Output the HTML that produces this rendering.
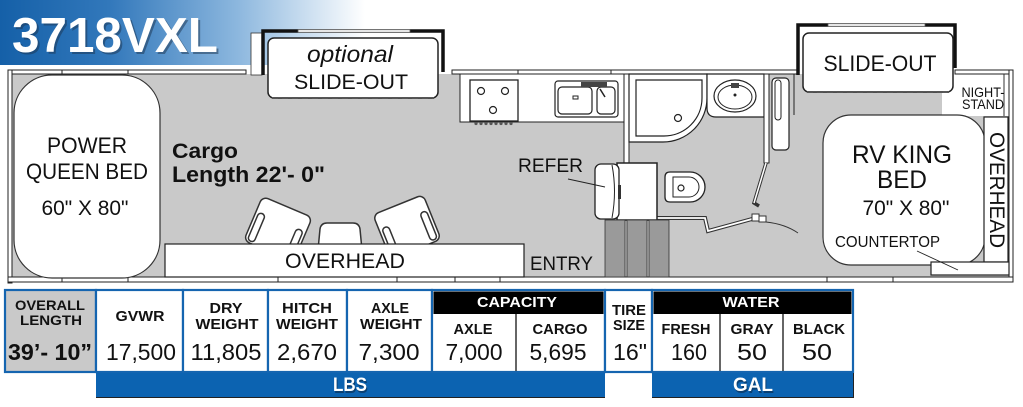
<!DOCTYPE html>
<html><head><meta charset="utf-8"><style>
html,body{margin:0;padding:0;background:#fff;}
svg{display:block;font-family:"Liberation Sans",sans-serif;}
</style></head><body>
<svg width="1023" height="407" viewBox="0 0 1023 407" xmlns="http://www.w3.org/2000/svg">
<defs>
<linearGradient id="tg" x1="0" x2="1" y1="0" y2="0">
<stop offset="0" stop-color="#1560a8"/>
<stop offset="0.3" stop-color="#3278bb"/>
<stop offset="0.65" stop-color="#8cb7de"/>
<stop offset="1" stop-color="#ffffff"/>
</linearGradient>
</defs>
<rect x="0" y="0" width="1023" height="407" fill="#fff"/>

<!-- Title banner -->
<rect x="0" y="0" width="365" height="65" fill="url(#tg)"/>
<text x="14" y="54" font-size="49" font-weight="bold" fill="#1d3550" opacity="0.5" textLength="206" lengthAdjust="spacingAndGlyphs">3718VXL</text>
<text x="12" y="52" font-size="49" font-weight="bold" fill="#fff" textLength="206" lengthAdjust="spacingAndGlyphs">3718VXL</text>

<!-- Gray floor -->
<rect x="11" y="74" width="999" height="203" fill="#c9c9c9"/>

<!-- Nightstand white -->
<rect x="942" y="74" width="67" height="42" fill="#fff"/>
<line x1="1004" y1="74" x2="1004" y2="116" stroke="#333" stroke-width="1"/>

<!-- Walls -->
<g fill="#fff" stroke="#222" stroke-width="1">
<rect x="8" y="70" width="238" height="4"/>
<rect x="452" y="70" width="346" height="4"/>
<rect x="955" y="70" width="58" height="4"/>
<rect x="8" y="70" width="4" height="213"/>
<rect x="1009" y="70" width="4" height="211"/>
<rect x="8" y="277" width="1005" height="5"/>
</g>
<g stroke="#222" stroke-width="1">
<line x1="62" y1="70" x2="62" y2="74"/><line x1="128" y1="70" x2="128" y2="74"/>
<line x1="518" y1="70" x2="518" y2="74"/><line x1="611" y1="70" x2="611" y2="74"/>
<line x1="62" y1="277" x2="62" y2="282"/><line x1="128" y1="277" x2="128" y2="282"/>
<line x1="278" y1="277" x2="278" y2="282"/><line x1="397" y1="277" x2="397" y2="282"/>
<line x1="455" y1="277" x2="455" y2="282"/><line x1="500" y1="277" x2="500" y2="282"/>
<line x1="827" y1="277" x2="827" y2="282"/><line x1="893" y1="277" x2="893" y2="282"/>
</g>

<!-- Left slide-out -->
<rect x="251" y="33" width="11" height="42" fill="#fff" stroke="#333" stroke-width="0.8"/>
<path d="M263,75 V31 H298 M410,31 H443 V72" fill="none" stroke="#111" stroke-width="3.5"/>
<rect x="298" y="29.5" width="112" height="3" fill="#e6e6e6" stroke="#555" stroke-width="0.8"/>
<rect x="268" y="38" width="170" height="60" rx="6" fill="#fff" stroke="#222" stroke-width="1.5"/>
<line x1="272" y1="98" x2="434" y2="98" stroke="#555" stroke-width="2" stroke-dasharray="6,4"/>
<text x="350" y="62" font-size="23" font-style="italic" text-anchor="middle" fill="#111" textLength="86" lengthAdjust="spacingAndGlyphs">optional</text>
<text x="351" y="89" font-size="21" text-anchor="middle" fill="#111" textLength="114" lengthAdjust="spacingAndGlyphs">SLIDE-OUT</text>

<!-- Right slide-out -->
<path d="M798,75 V25 H828 M925,25 H955 V68" fill="none" stroke="#111" stroke-width="3.5"/>
<rect x="828" y="23.5" width="97" height="3" fill="#e6e6e6" stroke="#555" stroke-width="0.8"/>
<rect x="803" y="33" width="150" height="59" rx="6" fill="#fff" stroke="#222" stroke-width="1.5"/>
<line x1="807" y1="92" x2="949" y2="92" stroke="#555" stroke-width="2" stroke-dasharray="6,4"/>
<text x="880" y="71" font-size="22" text-anchor="middle" fill="#111" textLength="113" lengthAdjust="spacingAndGlyphs">SLIDE-OUT</text>
<text x="983" y="97" font-size="14" text-anchor="middle" fill="#111" textLength="43" lengthAdjust="spacingAndGlyphs">NIGHT-</text>
<text x="983" y="109" font-size="14" text-anchor="middle" fill="#111" textLength="42" lengthAdjust="spacingAndGlyphs">STAND</text>

<!-- Left bed -->
<path d="M52,75 H122 A38,38 0 0 1 160,113 V240 A38,38 0 0 1 122,278 H52 A38,38 0 0 1 14,240 V113 A38,38 0 0 1 52,75 Z" fill="#fff" stroke="#333" stroke-width="1.2"/>
<text x="87" y="153" font-size="22" text-anchor="middle" fill="#111" textLength="80" lengthAdjust="spacingAndGlyphs">POWER</text>
<text x="87" y="179" font-size="22" text-anchor="middle" fill="#111" textLength="122" lengthAdjust="spacingAndGlyphs">QUEEN BED</text>
<text x="85" y="215" font-size="21" text-anchor="middle" fill="#111" textLength="87" lengthAdjust="spacingAndGlyphs">60" X 80"</text>

<!-- Cargo text -->
<text x="172" y="158" font-size="21" font-weight="bold" fill="#111" textLength="66" lengthAdjust="spacingAndGlyphs">Cargo</text>
<text x="172" y="182" font-size="22" font-weight="bold" fill="#111" textLength="153" lengthAdjust="spacingAndGlyphs">Length 22'- 0"</text>

<!-- Chairs -->
<g fill="#fff" stroke="#333" stroke-width="1.5">
<g transform="translate(278,229) rotate(23)">
<rect x="-27" y="-24" width="54" height="48" rx="6"/>
<rect x="-24" y="-8" width="7" height="30" rx="3.5"/>
<rect x="17" y="-8" width="7" height="30" rx="3.5"/>
</g>
<g transform="translate(407,227) rotate(-22)">
<rect x="-27" y="-24" width="54" height="48" rx="6"/>
<rect x="-24" y="-8" width="7" height="30" rx="3.5"/>
<rect x="17" y="-8" width="7" height="30" rx="3.5"/>
</g>
<path d="M318,250 L320,229 Q321,223 327,223 H353 Q359,223 360,229 L362,250 Z"/>
</g>

<!-- Overhead bottom -->
<rect x="165" y="244" width="359" height="33" fill="#fff" stroke="#222" stroke-width="1.2"/>
<text x="345" y="268" font-size="21" text-anchor="middle" fill="#111" textLength="120" lengthAdjust="spacingAndGlyphs">OVERHEAD</text>
<text x="530" y="270" font-size="19" fill="#111" textLength="63" lengthAdjust="spacingAndGlyphs">ENTRY</text>

<!-- Kitchen -->
<rect x="460" y="74" width="165" height="48" fill="#fff" stroke="#222" stroke-width="1"/>
<rect x="470" y="80" width="48" height="41" fill="#fff" stroke="#222" stroke-width="1.3"/>
<g fill="#fff" stroke="#222" stroke-width="1.2">
<circle cx="481" cy="91" r="3.5"/><circle cx="505" cy="91" r="3.5"/><circle cx="493" cy="110" r="3.5"/>
</g>
<g fill="#555">
<circle cx="476" cy="123.5" r="1.6"/><circle cx="481" cy="123.5" r="1.6"/><circle cx="486" cy="123.5" r="1.6"/><circle cx="491" cy="123.5" r="1.6"/><circle cx="496" cy="123.5" r="1.6"/><circle cx="501" cy="123.5" r="1.6"/><circle cx="506" cy="123.5" r="1.6"/><circle cx="511" cy="123.5" r="1.6"/>
</g>
<rect x="555" y="81" width="63" height="36" rx="3" fill="#fff" stroke="#222" stroke-width="1.2"/>
<rect x="558" y="87" width="34" height="27" rx="4" fill="#fff" stroke="#222" stroke-width="1.2"/>
<rect x="597" y="87" width="18" height="27" rx="4" fill="#fff" stroke="#222" stroke-width="1.2"/>
<rect x="581" y="82" width="26" height="5" fill="#444"/>
<rect x="573" y="96" width="5" height="3" fill="none" stroke="#222"/>
<line x1="600" y1="89" x2="605" y2="97" stroke="#222" stroke-width="1.5"/>

<!-- Shower -->
<rect x="624" y="74" width="5" height="89" fill="#fff" stroke="#222" stroke-width="1"/>
<path d="M629,74 H707 V98 A44,44 0 0 1 663,142 H629 Z" fill="#fff" stroke="#222" stroke-width="1.2"/>
<path d="M636,80 H702 V98 A38,38 0 0 1 664,136 H636 Z" fill="#fff" stroke="#222" stroke-width="1.2"/>
<circle cx="678" cy="118" r="3.5" fill="#fff" stroke="#222" stroke-width="1.2"/>

<!-- Bath sink -->
<path d="M707,74 H764 V117 H716 Q707,117 707,108 Z" fill="#fff" stroke="#222" stroke-width="1.2"/>
<ellipse cx="735" cy="96" rx="21" ry="16" fill="#fff" stroke="#222" stroke-width="1.2"/>
<ellipse cx="735" cy="97" rx="17" ry="12" fill="#fff" stroke="#222" stroke-width="1"/>
<rect x="731" y="83" width="8" height="5" fill="#444"/>
<circle cx="735" cy="95" r="1.5" fill="#222"/>

<!-- Bath wall and closet -->
<rect x="764" y="74" width="5" height="89" fill="#fff" stroke="#222" stroke-width="1"/>
<rect x="772" y="78" width="17" height="72" rx="4" fill="#fff" stroke="#222" stroke-width="1.2"/>
<rect x="775" y="80" width="6" height="40" rx="3" fill="#fff" stroke="#222" stroke-width="1"/>
<line x1="794" y1="74" x2="794" y2="115" stroke="#222" stroke-width="1"/>

<!-- Door -->
<path d="M766,163 L754,203 L759,206" fill="none" stroke="#333" stroke-width="3.5"/>
<path d="M766,163 L754,203" fill="none" stroke="#fff" stroke-width="1.5"/>

<!-- Bathroom bottom wall -->
<path d="M657,218 H705 L708,231 L752,219" fill="none" stroke="#333" stroke-width="4"/>
<path d="M657,218 H705 L708,231 L752,219" fill="none" stroke="#fff" stroke-width="1.8"/>
<rect x="752" y="214" width="7" height="7" fill="#fff" stroke="#333"/>
<rect x="759" y="216" width="7" height="6" fill="#fff" stroke="#333"/>
<path d="M766,222 Q785,224 798,233" fill="none" stroke="#333" stroke-width="0.9"/>

<!-- Toilet -->
<path d="M670,172 H690 A15,15 0 0 1 690,202 H670 Q665,202 665,197 V177 Q665,172 670,172 Z" fill="#fff" stroke="#222" stroke-width="1.3"/>
<path d="M673,177 H689 A10,10 0 0 1 689,197 H673 Z" fill="#fff" stroke="#222" stroke-width="1"/>
<circle cx="681" cy="188" r="3" fill="#fff" stroke="#222" stroke-width="1.2"/>

<!-- Refer -->
<rect x="617" y="163" width="40" height="57" fill="#fff" stroke="#222" stroke-width="1.5"/>
<rect x="595" y="164" width="24" height="55" rx="6" fill="#fff" stroke="#222" stroke-width="1.3"/>
<path d="M612,165 Q617,191 612,218" fill="none" stroke="#222" stroke-width="1"/>
<rect x="618" y="185" width="3" height="14" fill="#333"/>
<line x1="568" y1="179" x2="605" y2="187" stroke="#222" stroke-width="1"/>
<text x="518" y="172" font-size="19" fill="#111" textLength="65" lengthAdjust="spacingAndGlyphs">REFER</text>

<!-- Steps -->
<g fill="#9a9a9a" stroke="#333" stroke-width="0.8">
<rect x="605" y="220" width="20" height="57"/>
<rect x="627" y="220" width="20" height="57"/>
<rect x="649" y="220" width="20" height="57"/>
</g>

<!-- King bed -->
<rect x="823" y="115" width="162" height="150" rx="28" fill="#fff" stroke="#333" stroke-width="1.2"/>
<text x="902" y="163" font-size="25" text-anchor="middle" fill="#111" textLength="100" lengthAdjust="spacingAndGlyphs">RV KING</text>
<text x="902" y="188" font-size="25" text-anchor="middle" fill="#111" textLength="50" lengthAdjust="spacingAndGlyphs">BED</text>
<text x="906" y="215" font-size="21" text-anchor="middle" fill="#111" textLength="87" lengthAdjust="spacingAndGlyphs">70" X 80"</text>
<text x="835" y="247" font-size="16" fill="#111" textLength="105" lengthAdjust="spacingAndGlyphs">COUNTERTOP</text>
<rect x="984" y="117" width="24" height="145" fill="#fff" stroke="#222" stroke-width="1.2"/>
<text transform="translate(990,132) rotate(90)" x="0" y="0" font-size="21" fill="#111" textLength="116" lengthAdjust="spacingAndGlyphs">OVERHEAD</text>
<rect x="931" y="262" width="78" height="13" fill="#fff" stroke="#222" stroke-width="1.2"/>
<line x1="917" y1="251" x2="958" y2="270" stroke="#222" stroke-width="0.9"/>

<!-- Table -->
<g stroke="#1565b0" stroke-width="2.2">
<rect x="5" y="290" width="91" height="82" fill="#c9c9c9"/>
<rect x="96" y="290" width="87" height="82" fill="#fff"/>
<rect x="183" y="290" width="85" height="82" fill="#fff"/>
<rect x="268" y="290" width="79" height="82" fill="#fff"/>
<rect x="347" y="290" width="85" height="82" fill="#fff"/>
<rect x="432" y="290" width="173" height="82" fill="#fff"/>
<rect x="605" y="290" width="47" height="82" fill="#fff"/>
<rect x="652" y="290" width="201" height="82" fill="#fff"/>
</g>
<rect x="433.5" y="291.5" width="170" height="22.5" fill="#000"/>
<rect x="653.5" y="291.5" width="198" height="22.5" fill="#000"/>
<g stroke="#000" stroke-width="1.2">
<line x1="516" y1="314" x2="516" y2="371"/>
<line x1="720" y1="314" x2="720" y2="371"/>
<line x1="783" y1="314" x2="783" y2="371"/>
</g>

<g font-weight="bold" fill="#111" text-anchor="middle">
<text x="50" y="310" font-size="14" textLength="70" lengthAdjust="spacingAndGlyphs">OVERALL</text>
<text x="51" y="325" font-size="14" textLength="62" lengthAdjust="spacingAndGlyphs">LENGTH</text>
<text x="50" y="360" font-size="23" textLength="84" lengthAdjust="spacingAndGlyphs">39’- 10”</text>
<text x="140" y="321" font-size="15" textLength="49" lengthAdjust="spacingAndGlyphs">GVWR</text>
<text x="226" y="313" font-size="15" textLength="33" lengthAdjust="spacingAndGlyphs">DRY</text>
<text x="227" y="329" font-size="15" textLength="63" lengthAdjust="spacingAndGlyphs">WEIGHT</text>
<text x="307" y="313" font-size="15" textLength="50" lengthAdjust="spacingAndGlyphs">HITCH</text>
<text x="307" y="329" font-size="15" textLength="62" lengthAdjust="spacingAndGlyphs">WEIGHT</text>
<text x="390" y="313" font-size="15" textLength="38" lengthAdjust="spacingAndGlyphs">AXLE</text>
<text x="391" y="329" font-size="15" textLength="62" lengthAdjust="spacingAndGlyphs">WEIGHT</text>
<text x="517" y="307" font-size="15" fill="#fff" textLength="80" lengthAdjust="spacingAndGlyphs">CAPACITY</text>
<text x="473" y="334" font-size="15" textLength="39" lengthAdjust="spacingAndGlyphs">AXLE</text>
<text x="560" y="334" font-size="15" textLength="55" lengthAdjust="spacingAndGlyphs">CARGO</text>
<text x="629" y="315" font-size="15" textLength="34" lengthAdjust="spacingAndGlyphs">TIRE</text>
<text x="629" y="330" font-size="15" textLength="32" lengthAdjust="spacingAndGlyphs">SIZE</text>
<text x="751" y="307" font-size="15" fill="#fff" textLength="57" lengthAdjust="spacingAndGlyphs">WATER</text>
<text x="686" y="334" font-size="15" textLength="49" lengthAdjust="spacingAndGlyphs">FRESH</text>
<text x="752" y="334" font-size="15" textLength="43" lengthAdjust="spacingAndGlyphs">GRAY</text>
<text x="819" y="334" font-size="15" textLength="52" lengthAdjust="spacingAndGlyphs">BLACK</text>
</g>
<g fill="#111" text-anchor="middle" font-size="23">
<text x="141" y="360" textLength="70" lengthAdjust="spacingAndGlyphs">17,500</text>
<text x="226" y="360" textLength="71" lengthAdjust="spacingAndGlyphs">11,805</text>
<text x="307" y="360" textLength="60" lengthAdjust="spacingAndGlyphs">2,670</text>
<text x="389" y="360" textLength="61" lengthAdjust="spacingAndGlyphs">7,300</text>
<text x="474" y="360" textLength="57" lengthAdjust="spacingAndGlyphs">7,000</text>
<text x="558" y="360" textLength="57" lengthAdjust="spacingAndGlyphs">5,695</text>
<text x="630" y="360" textLength="34" lengthAdjust="spacingAndGlyphs">16"</text>
<text x="689" y="360" textLength="36" lengthAdjust="spacingAndGlyphs">160</text>
<text x="752" y="360" textLength="30" lengthAdjust="spacingAndGlyphs">50</text>
<text x="817" y="360" textLength="30" lengthAdjust="spacingAndGlyphs">50</text>
</g>

<!-- Bars -->
<rect x="96" y="373" width="509" height="24" fill="#0c63b1"/>
<line x1="96" y1="397.5" x2="605" y2="397.5" stroke="#222" stroke-width="1"/>
<rect x="652" y="373" width="201" height="24" fill="#0c63b1"/>
<path d="M652,397.5 H853.5 V373" fill="none" stroke="#222" stroke-width="1"/>
<g font-weight="bold" text-anchor="middle" font-size="19">
<text x="351" y="393" fill="#0a2a4a" opacity="0.6" textLength="34" lengthAdjust="spacingAndGlyphs">LBS</text>
<text x="350" y="391" fill="#fff" textLength="34" lengthAdjust="spacingAndGlyphs">LBS</text>
<text x="754" y="393" fill="#0a2a4a" opacity="0.6" textLength="40" lengthAdjust="spacingAndGlyphs">GAL</text>
<text x="753" y="391" fill="#fff" textLength="40" lengthAdjust="spacingAndGlyphs">GAL</text>
</g>
</svg>
</body></html>
